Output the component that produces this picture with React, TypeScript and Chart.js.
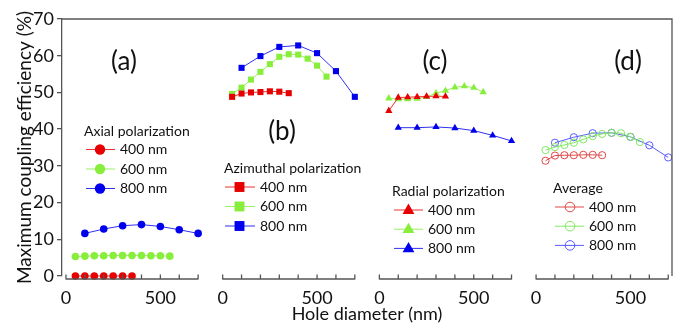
import React, { useEffect, useRef } from "react";
import { Chart, registerables } from "chart.js";

Chart.register(...registerables);

// ---- data ----
const panelOffsets = [0, 830, 1660, 2490];
const panelLabels = ["(a)", "(b)", "(c)", "(d)"];
const legendTitles = ["Axial polarization", "Azimuthal polarization", "Radial polarization", "Average"];
const wavelengths = ["400 nm", "600 nm", "800 nm"];
const xTickLabels = [0, 500];

const hole400 = [50, 100, 150, 200, 250, 300, 350];
const hole600 = [50, 100, 150, 200, 250, 300, 350, 400, 450, 500, 550];
const hole800 = [100, 200, 300, 400, 500, 600, 700];

const axial400 = [0, 0, 0, 0, 0, 0, 0];
const axial600 = [5.3, 5.4, 5.5, 5.5, 5.6, 5.6, 5.6, 5.6, 5.5, 5.5, 5.4];
const axial800 = [11.6, 12.8, 13.7, 14.0, 13.5, 12.6, 11.6];

const azimuthal400 = [48.8, 49.7, 50.0, 50.1, 50.3, 50.2, 49.8];
const azimuthal600 = [49.6, 51.3, 53.5, 55.6, 57.7, 59.7, 60.4, 60.3, 59.2, 57.3, 54.3];
const azimuthal800 = [56.7, 59.9, 62.4, 62.8, 60.7, 55.8, 48.8];

const radial400 = [45.0, 48.6, 48.7, 48.8, 48.9, 49.0, 48.9];
const radial600 = [48.4, 48.2, 48.2, 48.3, 48.8, 49.8, 50.5, 51.4, 51.7, 51.3, 50.1];
const radial800 = [40.4, 40.4, 40.6, 40.3, 39.6, 38.3, 36.8];

const average400 = [31.4, 32.8, 32.9, 32.9, 33.0, 33.0, 32.9];
const average600 = [34.3, 35.1, 35.7, 36.3, 37.2, 38.1, 38.7, 39.0, 38.9, 37.9, 36.5];
const average800 = [36.3, 37.8, 38.9, 39.0, 37.9, 35.6, 32.3];

// ---- styles ----
const FONT = "Lato, 'Open Sans', sans-serif";
const AXIS = "#555";
const TEXT = "#111";
const solidColors = ["#e60000", "#88ee3c", "#0000ee"];
const solidLines = ["#ee3030", "#99f060", "#3030f0"];
const avgColors = ["#e04848", "#80e860", "#5a5aff"];

type PanelStyle = { pointStyle: string; radius: number; filled: boolean; legendRadius: number };
const panelStyles: PanelStyle[] = [
  { pointStyle: "circle", radius: 3.8, filled: true, legendRadius: 5.2 },
  { pointStyle: "rect", radius: 4.3, filled: true, legendRadius: 7 },
  { pointStyle: "triangle", radius: 4.2, filled: true, legendRadius: 6.5 },
  { pointStyle: "circle", radius: 3.6, filled: false, legendRadius: 4.8 },
];

// legend layout (pixels): title x,y ; line x1,x2 ; first row y ; row step
const legendLayout = [
  { tx: 84, ty: 131, x1: 86, x2: 115, mx: 100, textX: 120, y0: 149.5, dy: 19.5 },
  { tx: 224, ty: 168, x1: 225, x2: 255, mx: 239.5, textX: 260, y0: 187, dy: 19.5 },
  { tx: 392, ty: 191.5, x1: 394, x2: 423, mx: 408.5, textX: 428, y0: 210, dy: 19.2 },
  { tx: 553, ty: 188, x1: 555, x2: 584, mx: 570, textX: 589, y0: 207, dy: 19.2 },
];
const panelLabelPos = [
  { x: 124, y: 62 },
  { x: 282, y: 132 },
  { x: 435, y: 62 },
  { x: 628, y: 62 },
];

const panelSeries = [
  [axial400, axial600, axial800],
  [azimuthal400, azimuthal600, azimuthal800],
  [radial400, radial600, radial800],
  [average400, average600, average800],
];
const holes = [hole400, hole600, hole800];

function offsetFor(v: number) {
  let o = 0;
  for (const p of panelOffsets) if (p <= v + 1) o = p;
  return o;
}

function drawMarker(ctx: CanvasRenderingContext2D, style: string, x: number, y: number, r: number, color: string, filled: boolean) {
  ctx.save();
  ctx.beginPath();
  if (style === "circle") {
    ctx.arc(x, y, r, 0, Math.PI * 2);
  } else if (style === "rect") {
    const s = r * Math.SQRT1_2;
    ctx.rect(x - s, y - s, 2 * s, 2 * s);
  } else if (style === "triangle") {
    ctx.moveTo(x, y - r);
    ctx.lineTo(x + r * 0.866 * 1.05, y + r * 0.6);
    ctx.lineTo(x - r * 0.866 * 1.05, y + r * 0.6);
    ctx.closePath();
  }
  if (filled) {
    ctx.fillStyle = color;
    ctx.fill();
  } else {
    ctx.strokeStyle = color;
    ctx.lineWidth = 1;
    ctx.stroke();
  }
  ctx.restore();
}

const framePlugin = {
  id: "framePlugin",
  afterDraw(chart: any) {
    const { ctx, chartArea, scales } = chart;
    const xs = scales.x;
    ctx.save();
    ctx.strokeStyle = AXIS;
    ctx.lineWidth = 1.3;
    // top and right frame
    ctx.beginPath();
    ctx.moveTo(chartArea.left, chartArea.top);
    ctx.lineTo(chartArea.right, chartArea.top);
    ctx.lineTo(chartArea.right, chartArea.bottom);
    ctx.stroke();
    // panel x-axes
    const ay = chartArea.bottom + 3;
    for (const off of panelOffsets) {
      ctx.beginPath();
      ctx.moveTo(xs.getPixelForValue(off), ay);
      ctx.lineTo(xs.getPixelForValue(off + 700), ay);
      for (let t = 0; t <= 700; t += 100) {
        const px = xs.getPixelForValue(off + t);
        ctx.moveTo(px, ay + 0.6);
        ctx.lineTo(px, ay - 4.5);
      }
      ctx.stroke();
    }
    // panel labels
    ctx.fillStyle = TEXT;
    ctx.font = `26px ${FONT}`;
    ctx.textAlign = "center";
    ctx.textBaseline = "middle";
    panelLabels.forEach((l, i) => ctx.fillText(l, panelLabelPos[i].x, panelLabelPos[i].y));
    // legends
    legendLayout.forEach((L, i) => {
      ctx.fillStyle = TEXT;
      ctx.font = `14px ${FONT}`;
      ctx.textAlign = "left";
      ctx.textBaseline = "middle";
      ctx.fillText(legendTitles[i], L.tx, L.ty);
      const st = panelStyles[i];
      wavelengths.forEach((w, k) => {
        const y = L.y0 + k * L.dy;
        const lineC = i === 3 ? avgColors[k] : solidLines[k];
        const mC = i === 3 ? avgColors[k] : solidColors[k];
        ctx.strokeStyle = lineC;
        ctx.lineWidth = 1;
        ctx.beginPath();
        ctx.moveTo(L.x1, y);
        ctx.lineTo(L.x2, y);
        ctx.stroke();
        drawMarker(ctx, st.pointStyle, L.mx, y, st.legendRadius, mC, st.filled);
        ctx.fillStyle = TEXT;
        ctx.font = `14px ${FONT}`;
        ctx.fillText(w, L.textX, y);
      });
    });
    ctx.restore();
  },
};

export default function App() {
  const ref = useRef<HTMLCanvasElement>(null);
  useEffect(() => {
    document.body.style.margin = "0";
    const datasets: any[] = [];
    panelSeries.forEach((series, p) => {
      const st = panelStyles[p];
      series.forEach((vals, k) => {
        const color = p === 3 ? avgColors[k] : solidColors[k];
        const line = p === 3 ? avgColors[k] : solidLines[k];
        datasets.push({
          label: `${legendTitles[p]} ${wavelengths[k]}`,
          data: holes[k].map((h, j) => ({ x: h + panelOffsets[p], y: vals[j] })),
          borderColor: line,
          borderWidth: 1,
          backgroundColor: st.filled ? color : "rgba(0,0,0,0)",
          pointBorderColor: color,
          pointBackgroundColor: st.filled ? color : "rgba(255,255,255,0)",
          pointBorderWidth: st.filled ? 0 : 1,
          pointStyle: st.pointStyle,
          pointRadius: st.radius,
          showLine: true,
          clip: false,
        });
      });
    });
    const chart = new Chart(ref.current!, {
      type: "scatter",
      data: { datasets },
      options: {
        animation: false,
        responsive: false,
        maintainAspectRatio: false,
        layout: { padding: { top: 19, right: 20, left: 0, bottom: 0 } },
        plugins: { legend: { display: false }, tooltip: { enabled: false } },
        scales: {
          x: {
            type: "linear",
            min: -21,
            max: 3210,
            afterBuildTicks: (s: any) => {
              s.ticks = panelOffsets.flatMap((o) => xTickLabels.map((t) => ({ value: o + t })));
            },
            afterFit: (s: any) => {
              s.height = 53;
            },
            grid: { display: false, drawTicks: false },
            border: { display: false },
            ticks: {
              autoSkip: false,
              maxRotation: 0,
              padding: 11,
              color: TEXT,
              font: { family: FONT, size: 18 },
              callback: (v: any) => String(Math.round(Number(v) - offsetFor(Number(v)))),
            },
            title: {
              display: true,
              text: "Hole diameter (nm)",
              color: TEXT,
              font: { family: FONT, size: 18 },
              padding: { top: 0, bottom: 4 },
            },
          },
          y: {
            min: 0,
            max: 70,
            afterBuildTicks: (s: any) => {
              s.ticks = [0, 10, 20, 30, 40, 50, 60, 70].map((v) => ({ value: v }));
            },
            afterFit: (s: any) => {
              s.width = 62;
            },
            grid: { drawOnChartArea: false, tickLength: 5, color: AXIS, lineWidth: 1.3 },
            border: { color: AXIS, width: 1.3 },
            ticks: { padding: 3, color: TEXT, font: { family: FONT, size: 18 } },
            title: {
              display: true,
              text: "Maximum coupling efficiency (%)",
              color: TEXT,
              font: { family: FONT, size: 19 },
              padding: { top: 13, bottom: 0 },
            },
          },
        },
      },
      plugins: [framePlugin],
    });
    return () => chart.destroy();
  }, []);
  return (
    <div style={{ width: 692, height: 329, background: "#fff" }}>
      <canvas ref={ref} width={692} height={329} style={{ display: "block" }} />
    </div>
  );
}
